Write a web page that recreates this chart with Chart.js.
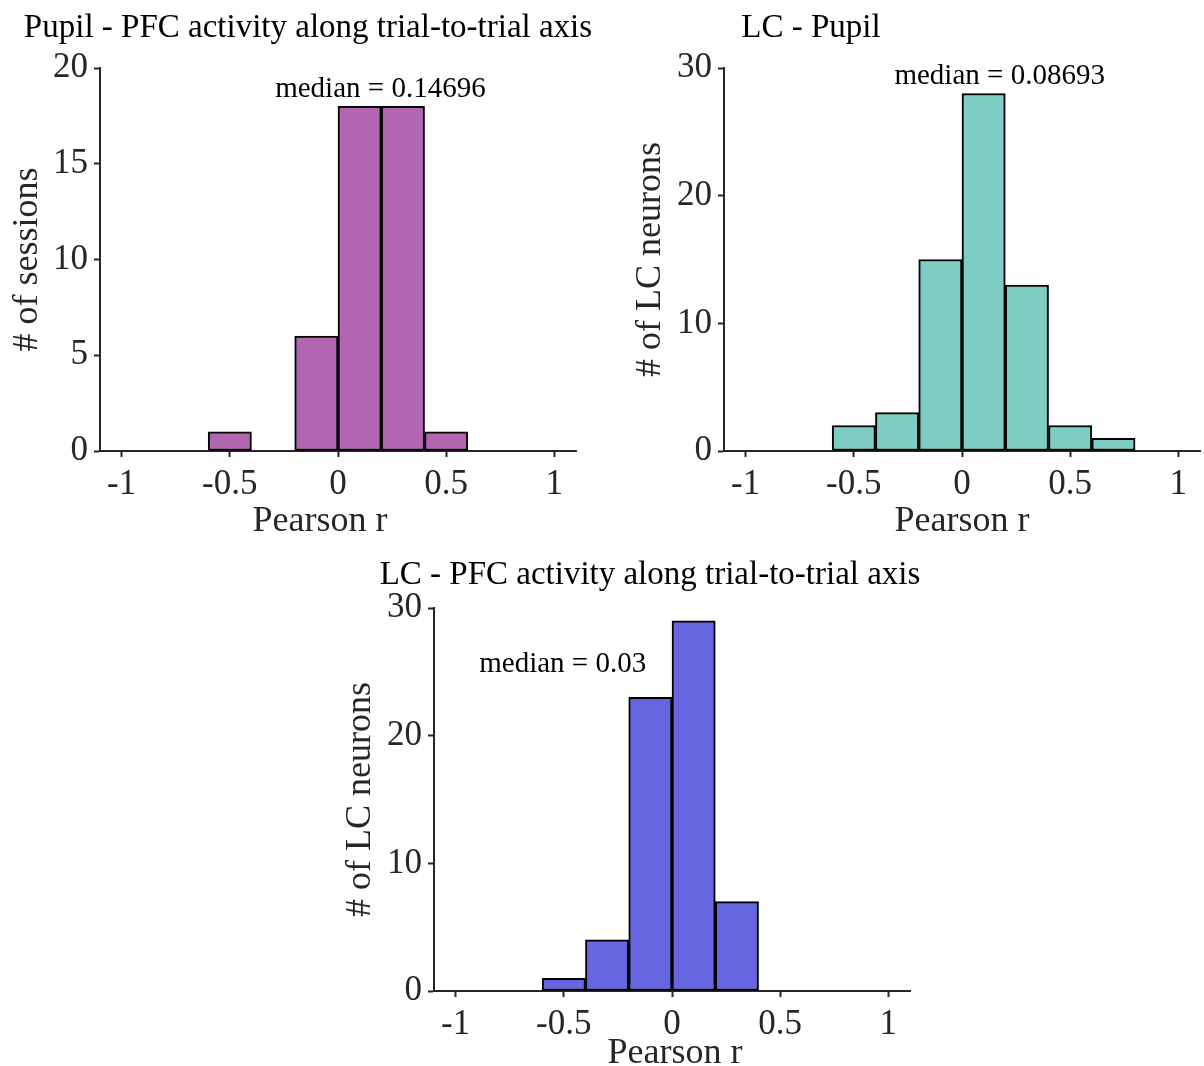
<!DOCTYPE html>
<html><head><meta charset="utf-8">
<script src="https://cdn.jsdelivr.net/npm/chart.js@4"></script>
<style>
html,body{margin:0;padding:0;background:#fff;width:1204px;height:1066px;overflow:hidden}
canvas{position:absolute;display:block}
</style></head><body>
<canvas id="c1" width="600" height="545" style="left:0;top:0"></canvas>
<canvas id="c2" width="600" height="545" style="left:604px;top:0"></canvas>
<canvas id="c3" width="640" height="526" style="left:300px;top:540px"></canvas>
<script>
// ---- data ----
const binCenters1 = [-0.5, -0.1, 0.1, 0.3, 0.5];
const counts1 = [1, 6, 18, 18, 1];
const binCenters2 = [-0.5, -0.3, -0.1, 0.1, 0.3, 0.5, 0.7];
const counts2 = [2, 3, 15, 28, 13, 2, 1];
const binCenters3 = [-0.5, -0.3, -0.1, 0.1, 0.3];
const counts3 = [1, 4, 23, 29, 7];
const xTickValues = [-1, -0.5, 0, 0.5, 1];
const xTickLabels = ['-1', '-0.5', '0', '0.5', '1'];
const yTicks1 = [0, 5, 10, 15, 20];
const yTicks2 = [0, 10, 20, 30];
const yTicks3 = [0, 10, 20, 30];
const titles = ['Pupil - PFC activity along trial-to-trial axis', 'LC - Pupil', 'LC - PFC activity along trial-to-trial axis'];
const medianLabels = ['median = 0.14696', 'median = 0.08693', 'median = 0.03'];
const yTitles = ['# of sessions', '# of LC neurons', '# of LC neurons'];
const xTitle = 'Pearson r';

const FONT = "'Liberation Serif', 'Times New Roman', serif";
const AXIS = '#262626';

const textPlugin = {
  id: 'texts',
  afterDraw(chart, args, o) {
    const ctx = chart.ctx;
    const xs = chart.scales.x, ys = chart.scales.y;
    ctx.save();
    ctx.textAlign = 'center';
    ctx.textBaseline = 'alphabetic';
    ctx.fillStyle = '#000';
    ctx.font = '33px ' + FONT;
    ctx.fillText(o.title, o.titleX, o.titleY);
    ctx.font = '29px ' + FONT;
    ctx.fillText(o.median, xs.getPixelForValue(o.medX), ys.getPixelForValue(o.medY));
    ctx.fillStyle = AXIS;
    ctx.font = '36px ' + FONT;
    ctx.fillText(xTitle, xs.getPixelForValue(o.xlabX), o.xlabY);
    ctx.restore();
  }
};

function makeChart(id, centers, counts, color, yTicks, yMax, yWidth, xHeight, padRight, yTitle, yTitlePad, texts) {
  new Chart(document.getElementById(id), {
    type: 'bar',
    data: {
      datasets: [{
        data: centers.map((c, i) => ({ x: c, y: counts[i] })),
        backgroundColor: color,
        borderColor: '#000',
        borderWidth: 2,
        borderSkipped: false,
        barPercentage: 1,
        categoryPercentage: 1
      }]
    },
    plugins: [textPlugin],
    options: {
      responsive: false,
      animation: false,
      events: [],
      layout: { padding: { top: 68, right: padRight, left: 0, bottom: 0 } },
      plugins: { legend: { display: false }, tooltip: { enabled: false }, title: { display: false }, texts: texts },
      scales: {
        x: {
          type: 'linear', min: -1.1, max: 1.1, offset: false,
          afterBuildTicks: s => { s.ticks = xTickValues.map(v => ({ value: v })); },
          afterFit: s => { s.height = xHeight; },
          ticks: { callback: (v) => xTickLabels[xTickValues.indexOf(v)], color: AXIS, font: { family: FONT, size: 35 }, padding: 7, maxRotation: 0, autoSkip: false },
          grid: { offset: false, drawOnChartArea: false, drawTicks: true, tickLength: 6, tickWidth: 2, tickColor: AXIS },
          border: { display: true, color: AXIS, width: 2 }
        },
        y: {
          min: 0, max: yMax,
          afterBuildTicks: s => { s.ticks = yTicks.map(v => ({ value: v })); },
          afterFit: s => { s.width = yWidth; },
          ticks: { color: AXIS, font: { family: FONT, size: 35 }, padding: 6, autoSkip: false },
          grid: { drawOnChartArea: false, drawTicks: true, tickLength: 6, tickWidth: 2, tickColor: AXIS },
          border: { display: true, color: AXIS, width: 2 },
          title: { display: true, text: yTitle, color: AXIS, font: { family: FONT, size: 36, lineHeight: 1.2 }, padding: { top: yTitlePad, bottom: 0 } }
        }
      }
    }
  });
}

makeChart('c1', binCenters1, counts1, '#b266b2', yTicks1, 20, 100, 94, 24, yTitles[0], 6,
  { title: titles[0], titleX: 308, titleY: 37, median: medianLabels[0], medX: 0.196, medY: 18.49, xlabX: -0.083, xlabY: 531 });
makeChart('c2', binCenters2, counts2, '#7dcdc5', yTicks2, 30, 120, 94, 4, yTitles[1], 25,
  { title: titles[1], titleX: 207, titleY: 37, median: medianLabels[1], medX: 0.174, medY: 28.74, xlabX: 0, xlabY: 531 });
makeChart('c3', binCenters3, counts3, '#6666e0', yTicks3, 30, 134, 75, 30, yTitles[2], 39,
  { title: titles[2], titleX: 350, titleY: 44, median: medianLabels[2], medX: -0.505, medY: 24.98, xlabX: 0.014, xlabY: 523 });
</script>
</body></html>
